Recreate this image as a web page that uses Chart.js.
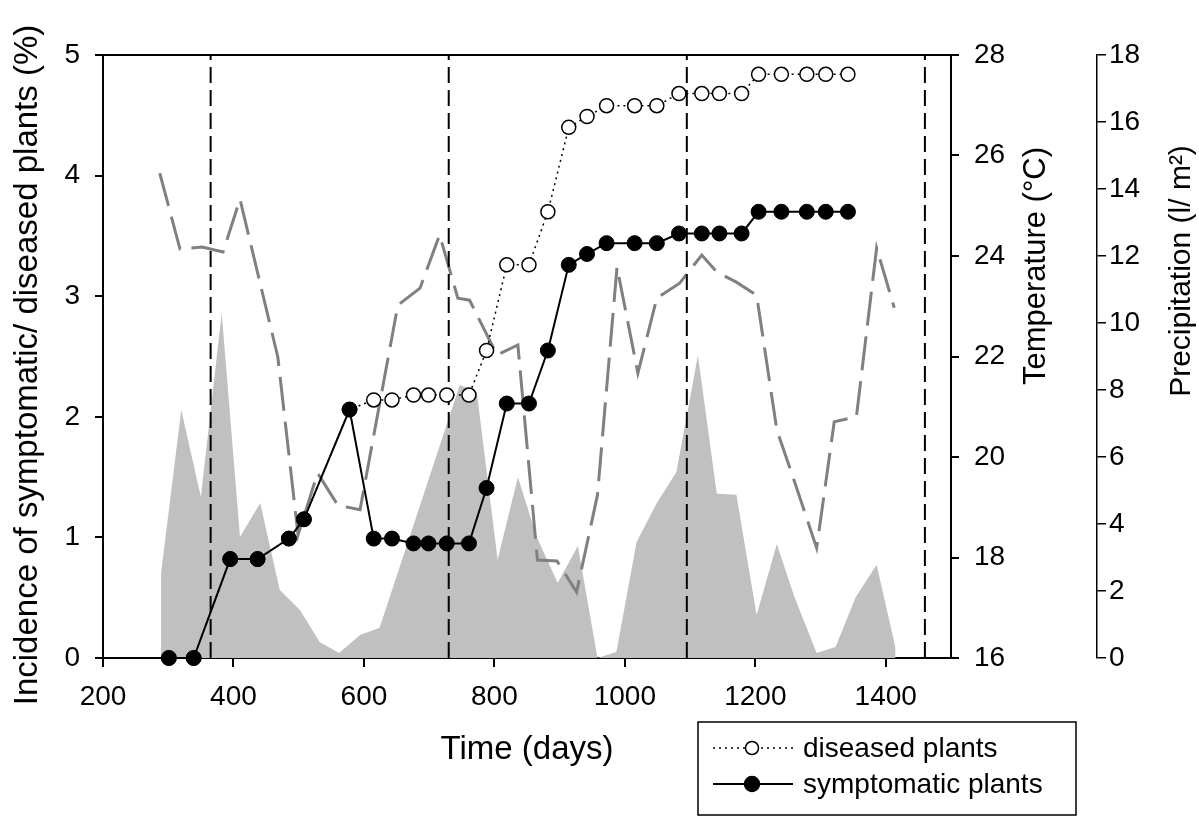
<!DOCTYPE html>
<html>
<head>
<meta charset="utf-8">
<title>Incidence of diseased plants</title>
<script src="https://cdn.jsdelivr.net/npm/chart.js@4.4.1/dist/chart.umd.min.js"></script>
<style>
  html, body { margin: 0; padding: 0; background: #fff; }
  #wrap { width: 1199px; height: 816px; }
</style>
</head>
<body>
<div id="wrap"><canvas id="chart" width="1199" height="816"></canvas></div>
<script>
// sampling days (time axis)
const symDays = [301, 339, 395, 437, 485, 508, 578, 615, 643, 676, 699, 727, 761, 788, 819, 853, 882, 914, 942, 972, 1015, 1049, 1083, 1118, 1145, 1179, 1205, 1240, 1279, 1308, 1342];
const symptomatic = [0, 0, 0.82, 0.82, 0.99, 1.15, 2.06, 0.99, 0.99, 0.95, 0.95, 0.95, 0.95, 1.41, 2.11, 2.11, 2.55, 3.26, 3.35, 3.44, 3.44, 3.44, 3.52, 3.52, 3.52, 3.52, 3.70, 3.70, 3.70, 3.70, 3.70];
const diseased = [0, 0, 0.82, 0.82, 0.99, 1.15, 2.06, 2.14, 2.14, 2.18, 2.18, 2.18, 2.18, 2.55, 3.26, 3.26, 3.70, 4.40, 4.49, 4.58, 4.58, 4.58, 4.68, 4.68, 4.68, 4.68, 4.84, 4.84, 4.84, 4.84, 4.84];

// monthly weather
const tempDays = [287, 318, 352, 384, 410, 468, 499, 529, 560, 594, 652, 686, 716, 744, 762, 804, 836, 866, 896, 926, 958, 988, 1020, 1049, 1084, 1118, 1141, 1171, 1202, 1233, 1263, 1294, 1321, 1355, 1386, 1413];
const temperature = [25.65, 24.14, 24.18, 24.08, 25.13, 21.99, 18.45, 19.68, 19.04, 18.95, 23.02, 23.36, 24.42, 23.16, 23.12, 22.03, 22.23, 17.95, 17.93, 17.31, 19.24, 23.78, 21.67, 23.16, 23.46, 24.02, 23.68, 23.48, 23.22, 20.54, 19.40, 18.19, 20.70, 20.80, 24.16, 22.97];
const precDays = [289, 320, 350, 382, 410, 441, 471, 502, 532, 562, 594, 624, 747, 773, 805, 836, 865, 897, 928, 958, 987, 1018, 1049, 1079, 1112, 1141, 1171, 1202, 1233, 1260, 1294, 1323, 1354, 1386, 1415];
const precipitation = [2.54, 7.40, 4.81, 10.30, 3.61, 4.63, 2.03, 1.43, 0.48, 0.15, 0.69, 0.90, 8.15, 7.94, 2.93, 5.40, 3.61, 2.24, 3.34, 0, 0.18, 3.46, 4.63, 5.55, 9.04, 4.90, 4.87, 1.28, 3.40, 1.82, 0.15, 0.33, 1.82, 2.78, 0.30];

// year boundaries and tick labels
const yearMarks = [365, 730, 1095, 1460];
const xTicks = [200, 400, 600, 800, 1000, 1200, 1400];
const incidenceTicks = [0, 1, 2, 3, 4, 5];
const tempTicks = [16, 18, 20, 22, 24, 26, 28];
const precTicks = [0, 2, 4, 6, 8, 10, 12, 14, 16, 18];

const FONT = '"Liberation Sans", Arial, Helvetica, sans-serif';
Chart.defaults.font.family = FONT;
Chart.defaults.color = '#000';

const pairs = (xs, ys) => xs.map((x, i) => ({ x: x, y: ys[i] }));
const fixTicks = list => scale => { scale.ticks = list.map(v => ({ value: v })); };
const plain = v => String(v);

const yearLines = yearMarks.map(d => ({
  type: 'line',
  data: [{ x: d, y: 0 }, { x: d, y: 5 }],
  yAxisID: 'y',
  borderColor: '#000',
  borderWidth: 2,
  borderDash: [16, 7],
  pointRadius: 0,
  order: 3
}));

// top frame line, rotated axis titles and the boxed legend
const decorations = {
  id: 'decorations',
  afterDraw(chart) {
    const { ctx, chartArea: a } = chart;
    ctx.save();
    ctx.strokeStyle = '#000';
    ctx.lineWidth = 2;
    ctx.beginPath();
    ctx.moveTo(a.left, a.top);
    ctx.lineTo(a.right, a.top);
    ctx.stroke();

    ctx.fillStyle = '#000';
    ctx.textAlign = 'center';
    ctx.textBaseline = 'middle';
    const vText = (txt, x, y, size) => {
      ctx.save();
      ctx.translate(x, y);
      ctx.rotate(-Math.PI / 2);
      ctx.font = size + 'px ' + FONT;
      ctx.fillText(txt, 0, 0);
      ctx.restore();
    };
    vText('Incidence of symptomatic/ diseased plants (%)', 28, 365, 33);
    vText('Temperature (°C)', 1036, 266, 31);
    vText('Precipitation (l/ m²)', 1182, 271, 30);

    // legend
    ctx.lineWidth = 1.5;
    ctx.strokeRect(698, 722, 378, 93);
    ctx.font = '28px ' + FONT;
    ctx.textAlign = 'left';
    const rows = [
      { label: 'diseased plants', y: 748, dash: [2, 4], fill: '#fff', r: 6.5 },
      { label: 'symptomatic plants', y: 784, dash: [], fill: '#000', r: 7.5 }
    ];
    rows.forEach(row => {
      ctx.strokeStyle = '#000';
      ctx.lineWidth = row.dash.length ? 1.5 : 2;
      ctx.setLineDash(row.dash);
      ctx.beginPath();
      ctx.moveTo(713, row.y);
      ctx.lineTo(793, row.y);
      ctx.stroke();
      ctx.setLineDash([]);
      ctx.lineWidth = 1.5;
      ctx.beginPath();
      ctx.arc(752, row.y, row.r, 0, Math.PI * 2);
      ctx.fillStyle = row.fill;
      ctx.fill();
      ctx.stroke();
      ctx.fillStyle = '#000';
      ctx.fillText(row.label, 803, row.y + 1);
    });
    ctx.restore();
  }
};

new Chart(document.getElementById('chart'), {
  type: 'line',
  data: {
    datasets: [
      {
        label: 'symptomatic plants',
        data: pairs(symDays, symptomatic),
        yAxisID: 'y',
        borderColor: '#000',
        borderWidth: 2,
        pointRadius: 7.5,
        pointBackgroundColor: '#000',
        pointBorderColor: '#000',
        pointBorderWidth: 1,
        clip: false,
        order: 1
      },
      {
        label: 'diseased plants',
        data: pairs(symDays, diseased),
        yAxisID: 'y',
        borderColor: '#000',
        borderWidth: 1.5,
        borderDash: [2, 4],
        pointRadius: 7,
        pointBackgroundColor: '#fff',
        pointBorderColor: '#000',
        pointBorderWidth: 1.5,
        clip: false,
        order: 2
      },
      ...yearLines,
      {
        label: 'Temperature',
        data: pairs(tempDays, temperature),
        yAxisID: 'yT',
        borderColor: '#808080',
        borderWidth: 3,
        borderDash: [34, 11],
        pointRadius: 0,
        order: 4
      },
      {
        label: 'Precipitation',
        data: pairs(precDays, precipitation),
        yAxisID: 'yP',
        borderWidth: 0,
        borderColor: 'rgba(0,0,0,0)',
        backgroundColor: '#c0c0c0',
        fill: 'origin',
        pointRadius: 0,
        order: 5
      }
    ]
  },
  options: {
    responsive: false,
    animation: false,
    devicePixelRatio: 1,
    layout: { padding: { top: 55, left: 0, right: 0, bottom: 0 } },
    plugins: {
      legend: { display: false },
      tooltip: { enabled: false }
    },
    scales: {
      x: {
        type: 'linear',
        position: 'bottom',
        min: 200,
        max: 1500,
        afterBuildTicks: fixTicks(xTicks),
        afterFit: s => { s.height = 158; },
        ticks: { font: { size: 28 }, padding: 13, maxRotation: 0, color: '#000', callback: plain },
        grid: { drawOnChartArea: false, tickLength: 9, color: '#000', lineWidth: 2 },
        border: { display: true, color: '#000', width: 2 },
        title: { display: true, text: 'Time (days)', font: { size: 33 }, color: '#000', padding: { top: 0, bottom: 46 } }
      },
      y: {
        position: 'left',
        min: 0,
        max: 5,
        afterBuildTicks: fixTicks(incidenceTicks),
        afterFit: s => { s.width = 103; },
        ticks: { font: { size: 28 }, padding: 15, color: '#000', callback: plain },
        grid: { drawOnChartArea: false, tickLength: 8, color: '#000', lineWidth: 2 },
        border: { display: true, color: '#000', width: 2 }
      },
      yT: {
        position: 'right',
        weight: 0,
        min: 16,
        max: 28,
        afterBuildTicks: fixTicks(tempTicks),
        afterFit: s => { s.width = 146; },
        ticks: { font: { size: 28 }, padding: 15, color: '#000', callback: plain },
        grid: { drawOnChartArea: false, tickLength: 8, color: '#000', lineWidth: 2 },
        border: { display: true, color: '#000', width: 2 }
      },
      yP: {
        position: 'right',
        weight: 1,
        min: 0,
        max: 18,
        afterBuildTicks: fixTicks(precTicks),
        afterFit: s => { s.width = 102; },
        ticks: { font: { size: 28 }, padding: 3, color: '#000', callback: plain },
        grid: { drawOnChartArea: false, tickLength: 9, color: '#000', lineWidth: 1.5 },
        border: { display: true, color: '#000', width: 1.5 }
      }
    }
  },
  plugins: [decorations]
});
</script>
</body>
</html>
